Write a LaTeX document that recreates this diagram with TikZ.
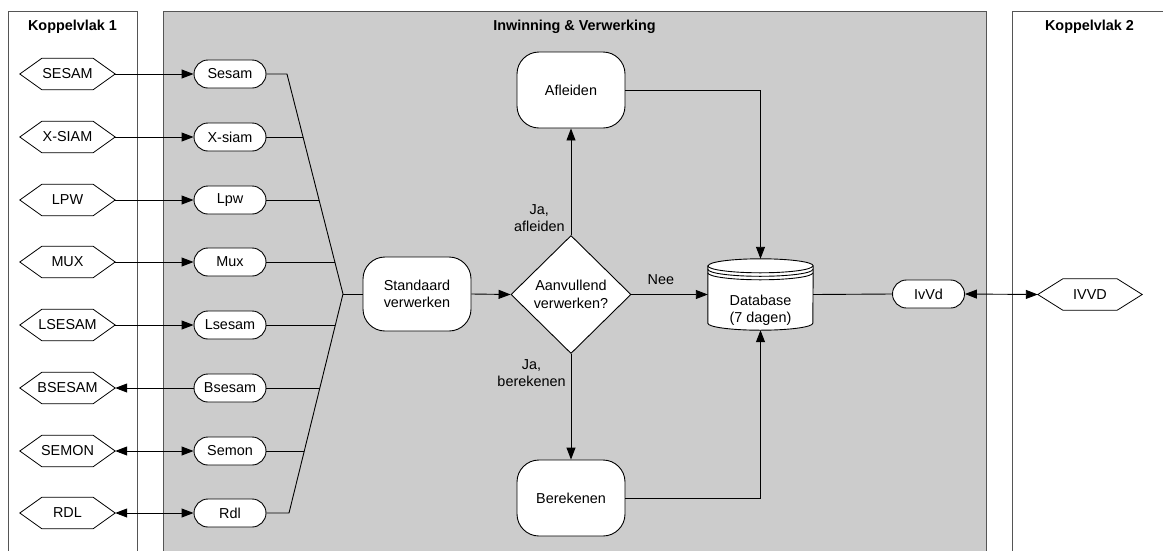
\documentclass[tikz,border=0pt]{standalone}
\usepackage{fontspec}
\setmainfont{Liberation Sans}
\usetikzlibrary{arrows.meta,shapes.geometric,calc,backgrounds}
\definecolor{lanegray}{HTML}{CCCCCC}
\definecolor{laneline}{HTML}{555555}
% hexagonal interface frame around a port node; #2 is the depth of the points
\newcommand\hexframe[2]{%
  \draw[hexline] (#1.west) -- ([xshift=#2]#1.north west) -- ([xshift=-#2]#1.north east)
    -- (#1.east) -- ([xshift=-#2]#1.south east) -- ([xshift=#2]#1.south west) -- cycle;}
\begin{document}
\begin{tikzpicture}[x=1pt,y=-1pt,
  font=\fontsize{14.4}{17.5}\selectfont,
  lane/.style={draw=laneline,line width=1pt},
  lanetitle/.style={inner sep=0pt,font=\fontsize{14.4}{17}\selectfont\bfseries},
  port/.style={rectangle,minimum width=95pt,minimum height=31pt,inner sep=0pt},
  hexline/.style={draw=black,fill=white,line width=0.8pt},
  pill/.style={draw,fill=white,rounded corners=14pt,minimum width=72pt,minimum height=28pt,inner sep=0pt,line width=0.9pt},
  proc/.style={draw,fill=white,rounded corners=22pt,minimum width=108pt,minimum height=76pt,inner sep=0pt,align=center,line width=0.9pt},
  decision/.style={draw,fill=white,diamond,minimum width=120pt,minimum height=118pt,inner sep=0pt,align=center,line width=0.9pt},
  link/.style={draw=black,line width=0.9pt},
  arr/.style={link,-{Triangle[length=12pt,width=9pt]}},
  biarr/.style={link,{Triangle[length=12pt,width=9pt]}-{Triangle[length=12pt,width=9pt]}},
  lbl/.style={inner sep=0pt,align=center},
]
\useasboundingbox (0,0) rectangle (1163,550);

% swimlanes
\begin{pgfonlayer}{background}
  \fill[lanegray] (163,11) rectangle (986,560);
  \draw[lane] (163,560) -- (163,11) -- (986,11) -- (986,560);
  \draw[lane] (8,560) -- (8,11) -- (137,11) -- (137,560);
  \draw[lane] (1012,560) -- (1012,11) -- (1175,11);
\end{pgfonlayer}

\node[lanetitle] (t1) at (72.5,27) {Koppelvlak 1};
\node[lanetitle] (t2) at (574.5,27) {Inwinning \& Verwerking};
\node[lanetitle] (t3) at (1089.5,27) {Koppelvlak 2};

% external interfaces (Koppelvlak 1)
\node[port] (kSesam)  at (67.5,74)  {SESAM};
\node[port] (kXsiam)  at (67.5,137) {X-SIAM};
\node[port] (kLpw)    at (67.5,200) {LPW};
\node[port] (kMux)    at (67.5,262) {MUX};
\node[port] (kLsesam) at (67.5,325) {LSESAM};
\node[port] (kBsesam) at (67.5,388) {BSESAM};
\node[port] (kSemon)  at (67.5,451) {SEMON};
\node[port] (kRdl)    at (67.5,513) {RDL};

% input adapters
\node[pill] (pSesam)  at (230,74)  {Sesam};
\node[pill] (pXsiam)  at (230,137) {X-siam};
\node[pill] (pLpw)    at (230,200) {Lpw};
\node[pill] (pMux)    at (230,262) {Mux};
\node[pill] (pLsesam) at (230,325) {Lsesam};
\node[pill] (pBsesam) at (230,388) {Bsesam};
\node[pill] (pSemon)  at (230,451) {Semon};
\node[pill] (pRdl)    at (230,513) {Rdl};

% processing
\node[proc,minimum height=74pt] (std) at (417,294) {Standaard\\verwerken};
\node[decision] (dia) at (571,294.5) {Aanvullend\\verwerken?};
\node[proc] (afl) at (571,90) {Afleiden};
\node[proc] (ber) at (571,498) {Berekenen};
\node[rectangle,minimum width=105pt,minimum height=71pt,inner sep=0pt] (db) at (760.5,294.5) {};
\node[lbl] (dbtext) at (760.5,310.5) {Database\\(7 dagen)};
\node[pill] (pIvvd) at (928.5,294) {IvVd};

% Koppelvlak 2
\node[port,minimum width=104pt] (kIvvd) at (1090,294.5) {IVVD};

% interface links
\draw[arr] (kSesam.east) -- (pSesam.west);
\draw[arr] (kXsiam.east) -- (pXsiam.west);
\draw[arr] (kLpw.east) -- (pLpw.west);
\draw[arr] (kMux.east) -- (pMux.west);
\draw[arr] (kLsesam.east) -- (pLsesam.west);
\draw[arr] (pBsesam.west) -- (kBsesam.east);
\draw[biarr] (kSemon.east) -- (pSemon.west);
\draw[biarr] (kRdl.east) -- (pRdl.west);

% bundle of adapters into standard processing
\coordinate (bt) at (287,74);
\coordinate (bb) at (289,513);
\coordinate (bm) at (343,294);
\coordinate (u2) at ($(bt)!0.2864!(bm)$);
\coordinate (u3) at ($(bt)!0.5727!(bm)$);
\coordinate (u4) at ($(bt)!0.8545!(bm)$);
\coordinate (l5) at ($(bb)!0.8584!(bm)$);
\coordinate (l6) at ($(bb)!0.5708!(bm)$);
\coordinate (l7) at ($(bb)!0.2831!(bm)$);
\draw[link] (pSesam.east) -- (bt) -- (bm) -- (bb) -- (pRdl.east);
\draw[link] (pXsiam.east) -- (pXsiam.east -| u2);
\draw[link] (pLpw.east) -- (pLpw.east -| u3);
\draw[link] (pMux.east) -- (pMux.east -| u4);
\draw[link] (pLsesam.east) -- (pLsesam.east -| l5);
\draw[link] (pBsesam.east) -- (pBsesam.east -| l6);
\draw[link] (pSemon.east) -- (pSemon.east -| l7);
\draw[link] (bm) -- (std.west);

% flow
\draw[arr] (std.east) -- (dia.west);
\draw[arr] (dia.north) -- node[lbl,pos=0.16,anchor=east,xshift=-6pt] {Ja,\\afleiden} (afl.south);
\draw[arr] (dia.south) -- node[lbl,pos=0.18,anchor=east,xshift=-5pt] {Ja,\\berekenen} (ber.north);
\draw[arr] (dia.east) -- node[lbl,pos=0.385,yshift=15pt] {Nee} (db.west);
\draw[arr] (afl.east) -| (db.north);
\draw[arr] (ber.east) -| (db.south);
\draw[link] (db.east) -- (pIvvd.west);
\draw[biarr] (pIvvd.east) -- (kIvvd.west);

% frames drawn beneath the texts
\begin{pgfonlayer}{background}
  \foreach \n in {kSesam,kXsiam,kLpw,kMux,kLsesam,kBsesam,kSemon,kRdl} {\hexframe{\n}{22pt}}
  \hexframe{kIvvd}{25pt}
  \draw[link,fill=white] ([yshift=-7pt]db.north west) -- ([yshift=7pt]db.south west)
    arc[start angle=180,end angle=360,x radius=52.5pt,y radius=7pt]
    -- ([yshift=-7pt]db.north east)
    arc[start angle=0,end angle=180,x radius=52.5pt,y radius=7pt] -- cycle;
  \draw[link] ([yshift=-7pt]db.north west) arc[start angle=180,end angle=360,x radius=52.5pt,y radius=7pt];
  \draw[link] ([yshift=-10.5pt]db.north west) arc[start angle=180,end angle=360,x radius=52.5pt,y radius=7pt];
  \draw[link] ([yshift=-14pt]db.north west) arc[start angle=180,end angle=360,x radius=52.5pt,y radius=7pt];
\end{pgfonlayer}
\end{tikzpicture}
\end{document}
